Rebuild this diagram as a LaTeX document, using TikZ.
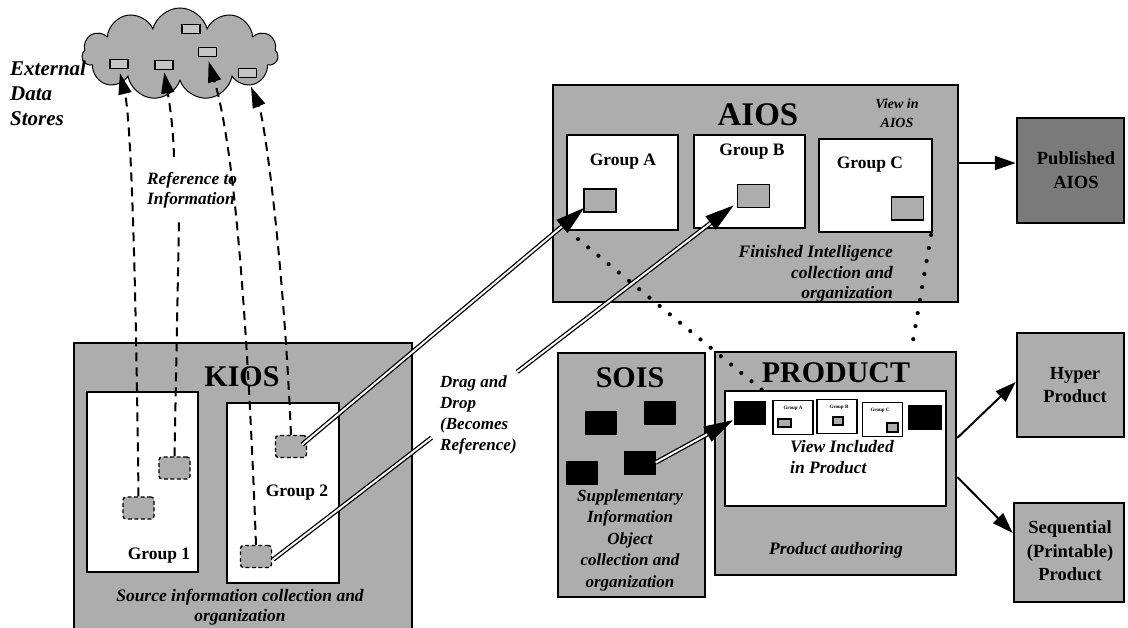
\documentclass[tikz,border=0pt]{standalone}
\usepackage{fontspec}
\setmainfont{Liberation Serif}
\usetikzlibrary{arrows.meta,shapes.symbols,calc}

\definecolor{stip}{gray}{0.68}
\definecolor{stipdark}{gray}{0.48}

\begin{document}
\begin{tikzpicture}[x=1pt,y=-1pt,
  panel/.style={draw, line width=2.5pt, fill=stip, inner sep=0pt},
  grp/.style={draw, line width=2pt, fill=white, inner sep=0pt},
  item/.style={draw, line width=1.8pt, fill=stip, inner sep=0pt, minimum width=32pt, minimum height=23pt},
  ditem/.style={draw, line width=1.4pt, dash pattern=on 4pt off 2.5pt, rounded corners=3pt, fill=stip, inner sep=0pt, minimum width=31pt, minimum height=22pt},
  citem/.style={draw, line width=1.8pt, fill=stip!70!white, inner sep=0pt, minimum width=18pt, minimum height=9pt},
  blk/.style={fill=black, inner sep=0pt, minimum width=32pt, minimum height=24pt},
  mini/.style={draw, line width=1.6pt, fill=white, inner sep=0pt, minimum width=40pt, minimum height=34pt},
  miniitem/.style={draw, line width=1.2pt, fill=stip, inner sep=0pt, minimum width=11pt, minimum height=8pt},
  minilabel/.style={font=\bfseries\fontsize{5}{6}\selectfont, inner sep=0pt},
  title/.style={font=\bfseries\fontsize{30}{30}\selectfont, inner sep=0pt},
  glabel/.style={font=\bfseries\fontsize{17.5}{20}\selectfont, inner sep=0pt},
  outlabel/.style={font=\bfseries\fontsize{18.5}{23.5}\selectfont, inner sep=0pt, align=center},
  note/.style={font=\bfseries\itshape\fontsize{17}{21}\selectfont, inner sep=0pt, align=left},
  desc/.style={font=\bfseries\itshape\fontsize{17.5}{20.5}\selectfont, inner sep=0pt},
  refline/.style={line width=2pt, dash pattern=on 9pt off 6pt},
  reftip/.style={-{Triangle[length=21pt,width=13pt]}},
  drag/.style={double, double distance=2pt, line width=1.3pt},
  dragtip/.style={line width=1pt, -{Triangle[length=29pt,width=17pt]}},
  dots/.style={line width=4.2pt, line cap=round, dash pattern=on 0pt off 13.2pt},
  plain/.style={line width=2pt, -{Triangle[length=21pt,width=14pt]}}
]
\clip (0,0) rectangle (1128,628);

% ---------- KIOS ----------
\node[panel, minimum width=338pt, minimum height=297pt] (kios) at (243,491.5) {};
\node[title] (kiost) at (242,377) {KIOS};
\node[grp, minimum width=111pt, minimum height=180pt] (g1) at (142.5,482) {};
\node[glabel] (g1t) at (159,556) {Group 1};
\node[ditem] (g1a) at (138.5,508) {};
\node[ditem] (g1b) at (174.5,468) {};
\node[grp, minimum width=112pt, minimum height=180pt] (g2) at (283,493) {};
\node[glabel] (g2t) at (297,493) {Group 2};
\node[ditem] (g2a) at (291,446.5) {};
\node[ditem] (g2b) at (256,556.5) {};
\node[desc, align=center] (kiosd) at (240,607) {Source information collection and\\organization};

% ---------- AIOS ----------
\node[panel, minimum width=405pt, minimum height=217pt] (aios) at (755.5,193.5) {};
\node[title, font=\bfseries\fontsize{33}{33}\selectfont] (aiost) at (758,115) {AIOS};
\node[desc, align=center, font=\bfseries\itshape\fontsize{14}{19}\selectfont] (aiosv) at (897,113) {View in\\AIOS};
\node[grp, minimum width=111pt, minimum height=95pt] (ga) at (622.5,182.5) {};
\node[glabel] (gat) at (623,162) {Group A};
\node[item] (ia) at (600,200.5) {};
\node[grp, minimum width=111pt, minimum height=93pt] (gb) at (749.5,181.5) {};
\node[glabel] (gbt) at (752,152) {Group B};
\node[item] (ib) at (753.5,196) {};
\node[grp, minimum width=113pt, minimum height=93pt] (gc) at (875.5,185.5) {};
\node[glabel] (gct) at (870,165) {Group C};
\node[item] (ic) at (907.5,208.5) {};
\node[desc, align=right, anchor=east] (aiosd) at (893,274) {Finished Intelligence\\collection and\\organization};

% ---------- outputs ----------
\node[panel, fill=stipdark, minimum width=107pt, minimum height=105pt] (pub) at (1070.5,170.5) {};
\node[outlabel] (pubt) at (1076,170) {Published\\AIOS};
\node[panel, minimum width=107pt, minimum height=104pt] (hyp) at (1070.5,385) {};
\node[outlabel] (hypt) at (1075,385) {Hyper\\Product};
\node[panel, minimum width=110pt, minimum height=99pt] (seq) at (1069,552.5) {};
\node[outlabel] (seqt) at (1070,551) {Sequential\\(Printable)\\Product};

% ---------- SOIS ----------
\node[panel, minimum width=147pt, minimum height=244pt] (sois) at (631.5,475) {};
\node[title] (soist) at (630,378) {SOIS};
\node[blk] (s1) at (601,423) {};
\node[blk] (s2) at (659.5,413.5) {};
\node[blk] (s3) at (581.5,472.5) {};
\node[blk] (s4) at (639.5,462.5) {};
\node[desc, align=center, font=\bfseries\itshape\fontsize{17}{21.5}\selectfont] (soisd) at (630,540) {Supplementary\\Information\\Object\\collection and\\organization};

% ---------- PRODUCT ----------
\node[panel, minimum width=241pt, minimum height=223pt] (prod) at (835.5,463.5) {};
\node[title] (prodt) at (836,373) {PRODUCT};
\node[grp, minimum width=221pt, minimum height=115pt] (pin) at (835.5,448.5) {};
\node[blk] (pb1) at (750,413) {};
\node[mini] (ma) at (793,417.5) {};
\node[minilabel] (mat) at (793,408) {Group A};
\node[miniitem, minimum width=13pt] (mai) at (784.5,423) {};
\node[mini] (mb) at (837,416.5) {};
\node[minilabel] (mbt) at (839,407) {Group B};
\node[miniitem, minimum width=10pt] (mbi) at (838,421) {};
\node[mini] (mc) at (882.5,419.5) {};
\node[minilabel] (mct) at (880,410) {Group C};
\node[miniitem, minimum height=9pt] (mci) at (892.5,427.5) {};
\node[blk, minimum width=34pt, minimum height=25pt] (pb2) at (925,417.5) {};
\node[note, anchor=west, font=\bfseries\itshape\fontsize{17.5}{21}\selectfont] (pinv) at (790,457.5) {View Included\\in Product};
\node[desc] (prodd) at (836,550) {Product authoring};

% ---------- external data stores ----------
\node[cloud, cloud puffs=11, aspect=2.1, draw, line width=1pt, fill=stip,
      minimum width=196pt, minimum height=92pt] (cloud) at (180,54) {};
\node[citem] (c1) at (119,64) {};
\node[citem] (c2) at (164,65) {};
\node[citem] (c3) at (207.5,52) {};
\node[citem] (c4) at (191,29) {};
\node[citem] (c5) at (247.5,73) {};
\node[note, anchor=west, font=\bfseries\itshape\fontsize{21}{25}\selectfont] (ext) at (10,93) {External\\Data\\Stores};
\node[note, anchor=west, font=\bfseries\itshape\fontsize{17.3}{20}\selectfont] (reft) at (147,190) {Reference to\\Information};

% ---------- references to information ----------
\draw[refline, reftip, shorten >=4pt] (g1a.north) .. controls (135,200) and (129,110) .. (c1.south);
\coordinate (r2lo) at (179,221);
\coordinate (r2hi) at (174,157);
\draw[refline] (g1b.north) -- (r2lo);
\draw[refline, reftip, shorten >=2pt] (r2hi) .. controls (173,120) and (168,95) .. (c2.south);
\draw[refline, reftip, shorten >=4pt] (g2b.north) .. controls (245,250) and (229,130) .. (c3.south);
\draw[refline, reftip, shorten >=9pt] (g2a.north) .. controls (283,250) and (264,118) .. (c5.south);

% ---------- drag and drop ----------
\coordinate (d1s) at ($(g2a.east)+(-5,-2)$);
\coordinate (d1e) at ($(ia.south west)+(1,-5)$);
\draw[drag] (d1s) -- ($(d1e)!22pt!(d1s)$);
\draw[dragtip] ($(d1e)!24pt!(d1s)$) -- (d1e);
\coordinate (d2s) at ($(g2b.east)+(1,3)$);
\coordinate (d2e) at ($(ib.south west)+(-3,-3)$);
\draw[drag] (d2s) -- ($(d2s)!0.344!(d2e)$);
\draw[drag] ($(d2s)!0.53!(d2e)$) -- ($(d2e)!22pt!(d2s)$);
\draw[dragtip] ($(d2e)!24pt!(d2s)$) -- (d2e);
\coordinate (d3s) at (s4.east);
\coordinate (d3e) at ($(pb1.south west)+(-1,-5)$);
\draw[drag] (d3s) -- ($(d3e)!22pt!(d3s)$);
\draw[dragtip] ($(d3e)!24pt!(d3s)$) -- (d3e);
\node[note, anchor=north west] (dragt) at (440,376) {Drag and\\Drop\\(Becomes\\Reference)};

% ---------- view projection ----------
\coordinate (v1a) at ($(ga.south west)+(12,8)$);
\coordinate (v1b) at ($(pin.north west)+(43,4)$);
\draw[dots] (v1a) -- (v1b);
\coordinate (v2a) at ($(gc.south east)+(-2,2)$);
\coordinate (v2b) at ($(prod.north east)+(-46,0)$);
\draw[dots] (v2a) -- (v2b);

% ---------- outputs ----------
\draw[plain] (aios.east |- 0,163) -- (pub.west |- 0,163);
\draw[plain] (prod.east |- 0,438) -- (hyp.west |- 0,382);
\draw[plain] (prod.east |- 0,477) -- (seq.west |- 0,533);
\end{tikzpicture}
\end{document}
